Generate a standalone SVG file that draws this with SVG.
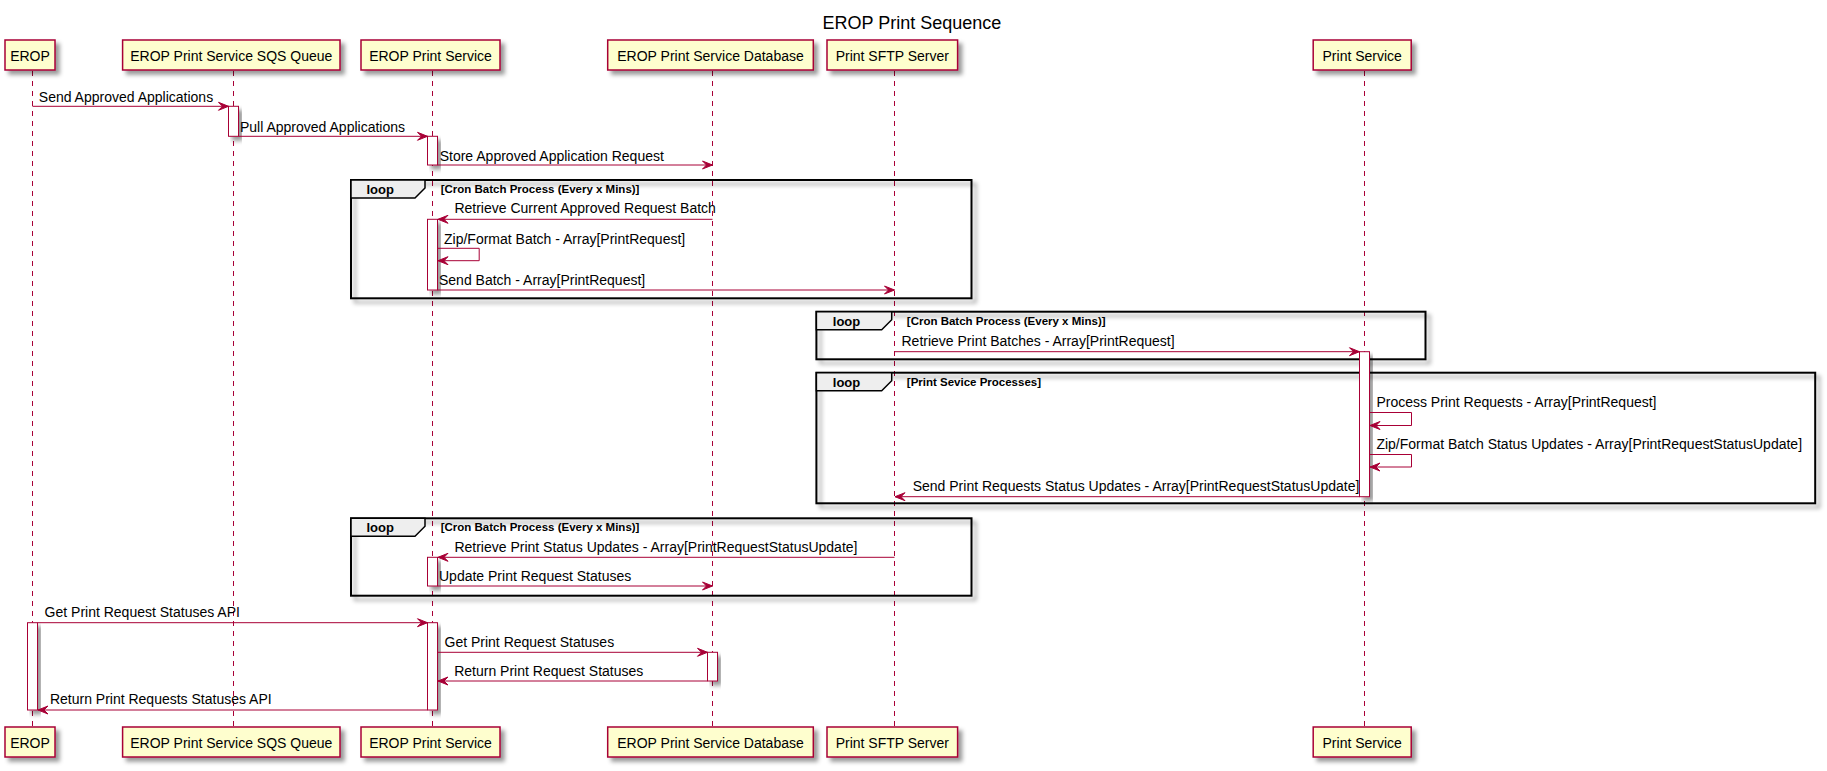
<svg xmlns="http://www.w3.org/2000/svg" width="1827" height="771" viewBox="0 0 1827 771">
<defs>
<filter id="sh" x="-20%" y="-20%" width="150%" height="160%">
<feGaussianBlur in="SourceAlpha" stdDeviation="2" result="b"/>
<feColorMatrix in="b" type="matrix" values="0 0 0 0 0  0 0 0 0 0  0 0 0 0 0  0 0 0 .4 0" result="b2"/>
<feOffset in="b2" dx="4" dy="4" result="b3"/>
<feMerge><feMergeNode in="b3"/><feMergeNode in="SourceGraphic"/></feMerge>
</filter>
<marker id="ah" markerUnits="userSpaceOnUse" markerWidth="12" markerHeight="10" refX="10" refY="4" orient="auto" overflow="visible">
<path d="M0,0 L10,4 L0,8 L4,4 Z" fill="#A80036" stroke="#A80036" stroke-width="1" stroke-linejoin="miter"/>
</marker>
<style>
.pbox{fill:#FEFECE;stroke:#A80036;stroke-width:1.5}
.ptxt{font-family:"Liberation Sans",Arial,sans-serif;font-size:14px;fill:#000;text-anchor:middle}
.life{stroke:#A80036;stroke-width:1;stroke-dasharray:5,5;fill:none}
.act{fill:#FFFFFF;stroke:#A80036;stroke-width:1}
.msg{stroke:#A80036;stroke-width:1;fill:none;marker-end:url(#ah)}
.mtxt{font-family:"Liberation Sans",Arial,sans-serif;font-size:14px;fill:#000}
.frame{fill:none;stroke:#000;stroke-width:2}
.tab{fill:#EEEEEE;stroke:#000;stroke-width:1.5}
.ltxt{font-family:"Liberation Sans",Arial,sans-serif;font-size:13px;font-weight:bold;fill:#000}
.ctxt{font-family:"Liberation Sans",Arial,sans-serif;font-size:11.5px;font-weight:bold;fill:#000}
.title{font-family:"Liberation Sans",Arial,sans-serif;font-size:18px;fill:#000;text-anchor:middle}
</style>
</defs>
<rect width="1827" height="771" fill="#FFFFFF"/>
<text class="title" x="912" y="29">EROP Print Sequence</text>

<g id="lifelines">
<line class="life" x1="32.5" y1="71" x2="32.5" y2="727"/>
<line class="life" x1="233.5" y1="71" x2="233.5" y2="727"/>
<line class="life" x1="432.5" y1="71" x2="432.5" y2="727"/>
<line class="life" x1="712.5" y1="71" x2="712.5" y2="727"/>
<line class="life" x1="894.5" y1="71" x2="894.5" y2="727"/>
<line class="life" x1="1364.5" y1="71" x2="1364.5" y2="727"/>
</g>

<g id="loop1">
<rect class="frame" x="351" y="180" width="620.5" height="118.3" filter="url(#sh)"/>
<path class="tab" d="M351,180 L425,180 L425,188 L415,198 L351,198 Z"/>
<text class="ltxt" x="366.5" y="194">loop</text>
<text class="ctxt" x="440.7" y="193.3">[Cron Batch Process (Every x Mins)]</text>
</g>
<g id="loop2">
<rect class="frame" x="816.4" y="311.7" width="609.1" height="47.6" filter="url(#sh)"/>
<path class="tab" d="M816.4,311.7 L891.7,311.7 L891.7,319.7 L881.7,329.7 L816.4,329.7 Z"/>
<text class="ltxt" x="832.8" y="326">loop</text>
<text class="ctxt" x="906.8" y="324.8">[Cron Batch Process (Every x Mins)]</text>
</g>
<g id="loop3">
<rect class="frame" x="816.4" y="372.7" width="998.8" height="130.6" filter="url(#sh)"/>
<path class="tab" d="M816.4,372.7 L891.7,372.7 L891.7,380.7 L881.7,390.7 L816.4,390.7 Z"/>
<text class="ltxt" x="832.8" y="386.7">loop</text>
<text class="ctxt" x="906.8" y="385.5">[Print Sevice Processes]</text>
</g>
<g id="loop4">
<rect class="frame" x="351" y="518.3" width="620.5" height="77.4" filter="url(#sh)"/>
<path class="tab" d="M351,518.3 L425,518.3 L425,526.3 L415,536.3 L351,536.3 Z"/>
<text class="ltxt" x="366.5" y="532">loop</text>
<text class="ctxt" x="440.7" y="531.3">[Cron Batch Process (Every x Mins)]</text>
</g>

<g id="activations">
<rect class="act" x="228.5" y="106.3" width="10" height="30" filter="url(#sh)"/>
<rect class="act" x="427.5" y="136.3" width="10" height="28.7" filter="url(#sh)"/>
<rect class="act" x="427.5" y="219.3" width="10" height="70.7" filter="url(#sh)"/>
<rect class="act" x="1359.5" y="351.7" width="10" height="145" filter="url(#sh)"/>
<rect class="act" x="427.5" y="557.3" width="10" height="28.7" filter="url(#sh)"/>
<rect class="act" x="27.5" y="622.7" width="10" height="87.3" filter="url(#sh)"/>
<rect class="act" x="427.5" y="622.7" width="10" height="87.3" filter="url(#sh)"/>
<rect class="act" x="707.5" y="652.3" width="10" height="28.7" filter="url(#sh)"/>
</g>

<g id="connectors">
<line class="msg" x1="32.5" y1="106.3" x2="228.5" y2="106.3"/>
<text class="mtxt" x="38.8" y="101.7">Send Approved Applications</text>
<line class="msg" x1="238.5" y1="136.3" x2="427.5" y2="136.3"/>
<text class="mtxt" x="240" y="132">Pull Approved Applications</text>
<line class="msg" x1="437.5" y1="165" x2="712.5" y2="165"/>
<text class="mtxt" x="439.7" y="161">Store Approved Application Request</text>
<line class="msg" x1="712.5" y1="219.3" x2="438" y2="219.3"/>
<text class="mtxt" x="454.4" y="213.3">Retrieve Current Approved Request Batch</text>
<polyline class="msg" points="437.5,248.3 479.2,248.3 479.2,260.7 438,260.7"/>
<text class="mtxt" x="444" y="244">Zip/Format Batch - Array[PrintRequest]</text>
<line class="msg" x1="437.5" y1="290" x2="894.5" y2="290"/>
<text class="mtxt" x="439" y="285">Send Batch - Array[PrintRequest]</text>
<line class="msg" x1="894.5" y1="351.7" x2="1359.5" y2="351.7"/>
<text class="mtxt" x="901.5" y="346">Retrieve Print Batches - Array[PrintRequest]</text>
<polyline class="msg" points="1369.5,412.5 1411.5,412.5 1411.5,425.5 1370,425.5"/>
<text class="mtxt" x="1376.4" y="406.7">Process Print Requests - Array[PrintRequest]</text>
<polyline class="msg" points="1369.5,454.5 1411.5,454.5 1411.5,467 1370,467"/>
<text class="mtxt" x="1376.4" y="449.3">Zip/Format Batch Status Updates - Array[PrintRequestStatusUpdate]</text>
<line class="msg" x1="1359.5" y1="496.7" x2="895" y2="496.7"/>
<text class="mtxt" x="912.7" y="490.7">Send Print Requests Status Updates - Array[PrintRequestStatusUpdate]</text>
<line class="msg" x1="894.5" y1="557.3" x2="438" y2="557.3"/>
<text class="mtxt" x="454.4" y="551.7">Retrieve Print Status Updates - Array[PrintRequestStatusUpdate]</text>
<line class="msg" x1="437.5" y1="586" x2="712.5" y2="586"/>
<text class="mtxt" x="439" y="580.7">Update Print Request Statuses</text>
<line class="msg" x1="37.5" y1="622.7" x2="427.5" y2="622.7"/>
<text class="mtxt" x="44.6" y="617.3">Get Print Request Statuses API</text>
<line class="msg" x1="437.5" y1="652.3" x2="707.5" y2="652.3"/>
<text class="mtxt" x="444.5" y="646.7">Get Print Request Statuses</text>
<line class="msg" x1="707.5" y1="681" x2="438" y2="681"/>
<text class="mtxt" x="454.2" y="675.7">Return Print Request Statuses</text>
<line class="msg" x1="427.5" y1="710" x2="38" y2="710"/>
<text class="mtxt" x="49.9" y="704.3">Return Print Requests Statuses API</text>
</g>

<g id="p-erop">
<rect class="pbox" x="5" y="40" width="50" height="30" filter="url(#sh)"/>
<text class="ptxt" x="30" y="60.5">EROP</text>
<rect class="pbox" x="5" y="727" width="50" height="30" filter="url(#sh)"/>
<text class="ptxt" x="30" y="747.5">EROP</text>
</g>
<g id="p-sqs">
<rect class="pbox" x="122.6" y="40" width="217.4" height="30" filter="url(#sh)"/>
<text class="ptxt" x="231.3" y="60.5">EROP Print Service SQS Queue</text>
<rect class="pbox" x="122.6" y="727" width="217.4" height="30" filter="url(#sh)"/>
<text class="ptxt" x="231.3" y="747.5">EROP Print Service SQS Queue</text>
</g>
<g id="p-eps">
<rect class="pbox" x="361" y="40" width="139" height="30" filter="url(#sh)"/>
<text class="ptxt" x="430.5" y="60.5">EROP Print Service</text>
<rect class="pbox" x="361" y="727" width="139" height="30" filter="url(#sh)"/>
<text class="ptxt" x="430.5" y="747.5">EROP Print Service</text>
</g>
<g id="p-db">
<rect class="pbox" x="607.7" y="40" width="205.6" height="30" filter="url(#sh)"/>
<text class="ptxt" x="710.5" y="60.5">EROP Print Service Database</text>
<rect class="pbox" x="607.7" y="727" width="205.6" height="30" filter="url(#sh)"/>
<text class="ptxt" x="710.5" y="747.5">EROP Print Service Database</text>
</g>
<g id="p-sftp">
<rect class="pbox" x="827" y="40" width="130.6" height="30" filter="url(#sh)"/>
<text class="ptxt" x="892.3" y="60.5">Print SFTP Server</text>
<rect class="pbox" x="827" y="727" width="130.6" height="30" filter="url(#sh)"/>
<text class="ptxt" x="892.3" y="747.5">Print SFTP Server</text>
</g>
<g id="p-ps">
<rect class="pbox" x="1313.2" y="40" width="98" height="30" filter="url(#sh)"/>
<text class="ptxt" x="1362.2" y="60.5">Print Service</text>
<rect class="pbox" x="1313.2" y="727" width="98" height="30" filter="url(#sh)"/>
<text class="ptxt" x="1362.2" y="747.5">Print Service</text>
</g>
</svg>
